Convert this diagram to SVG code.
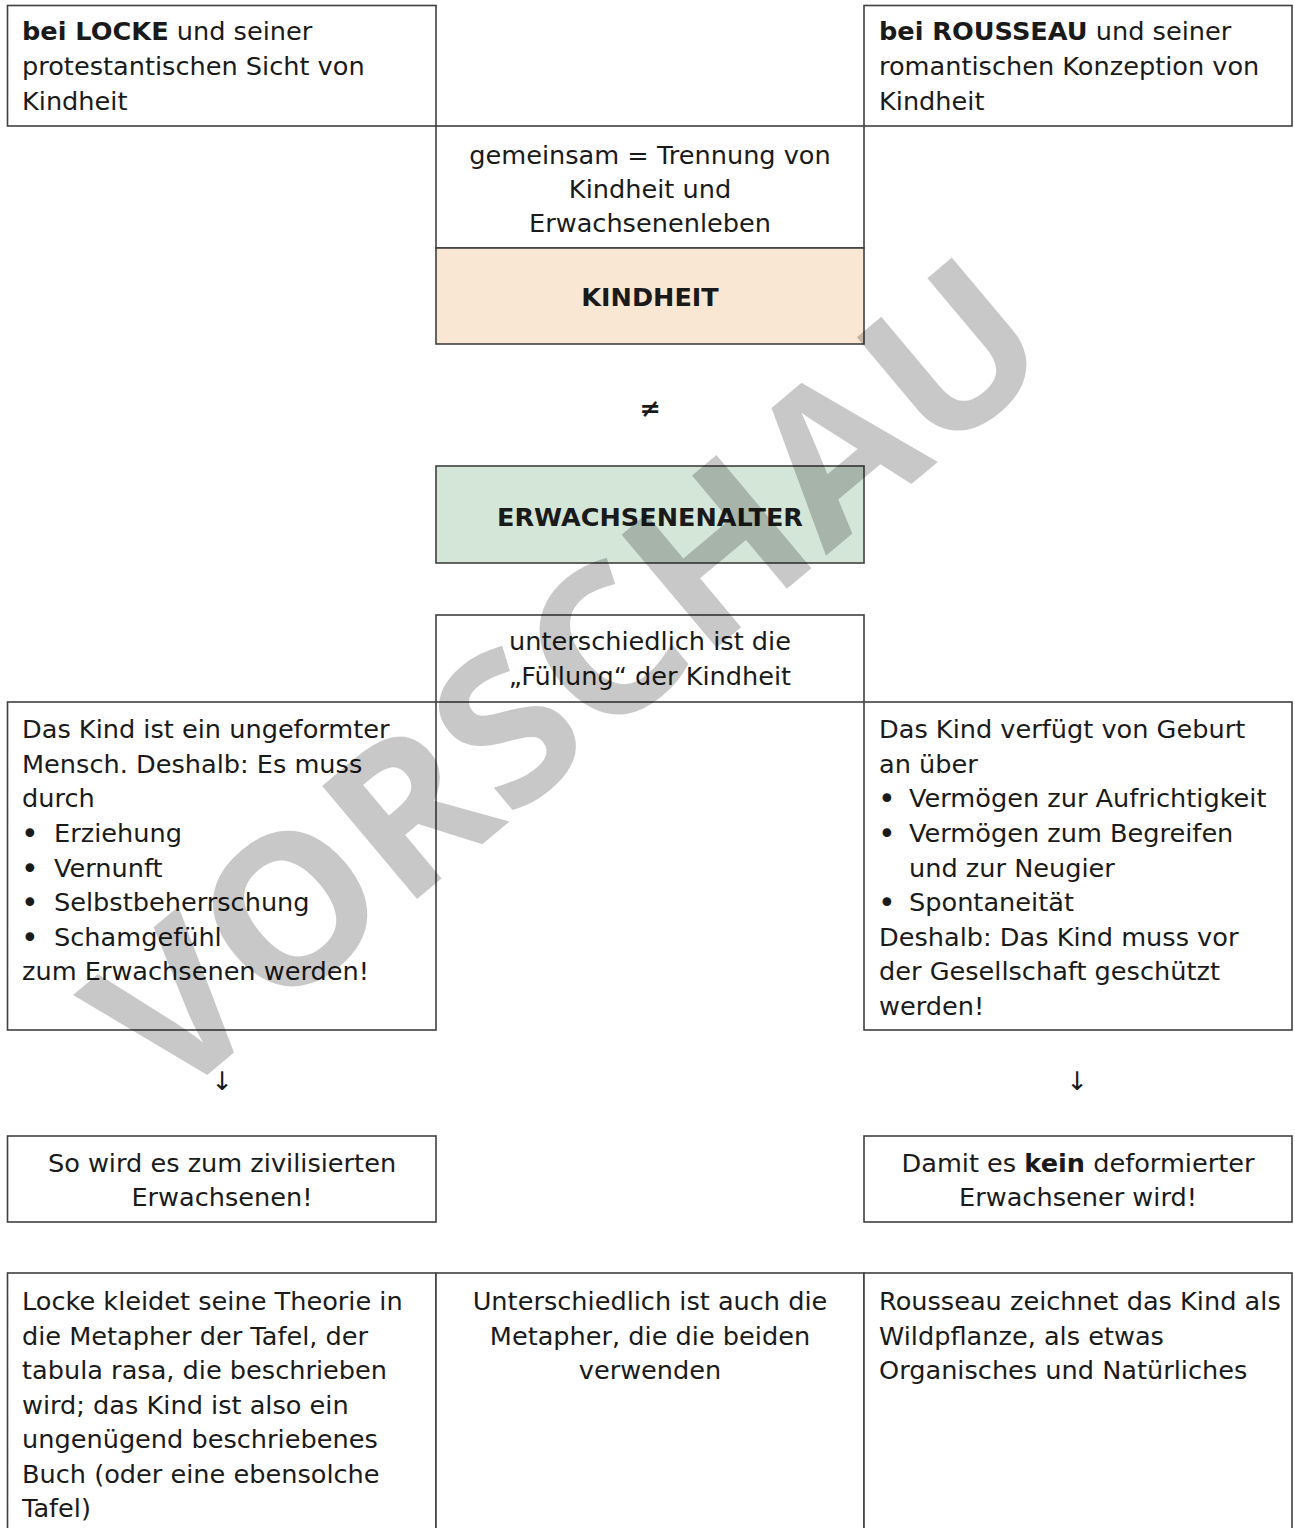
<svg xmlns="http://www.w3.org/2000/svg" width="1295" height="1528" viewBox="0 0 1295 1528">
<style>
.box{fill:#fff;stroke:#404040;stroke-width:1.6}
.t{font-family:"DejaVu Sans","Open Sans",sans-serif;font-size:25.6px;fill:#1a1a1a}
.c{text-anchor:middle}
.b{font-weight:bold}
.h{font-size:25.5px}
.bl{font-size:30px}
.wm{font-family:"Open Sans","Liberation Sans",sans-serif;font-weight:bold;font-size:207px;fill:#000;fill-opacity:0.215}
</style>
<rect width="1295" height="1528" fill="#fff"/>
<g id="locke-head">
<rect class="box" x="7.5" y="5.5" width="428.5" height="120.5"/>
<text class="t" x="22" y="40"><tspan class="b">bei LOCKE</tspan> und seiner</text>
<text class="t" x="22" y="75">protestantischen Sicht von</text>
<text class="t" x="22" y="110">Kindheit</text>
</g>
<g id="rousseau-head">
<rect class="box" x="864" y="5.5" width="428" height="120.5"/>
<text class="t" x="879" y="40"><tspan class="b">bei ROUSSEAU</tspan> und seiner</text>
<text class="t" x="879" y="75">romantischen Konzeption von</text>
<text class="t" x="879" y="110">Kindheit</text>
</g>
<g id="gemeinsam">
<rect class="box" x="436" y="126" width="428" height="122"/>
<text class="t c" x="650" y="164">gemeinsam = Trennung von</text>
<text class="t c" x="650" y="198">Kindheit und</text>
<text class="t c" x="650" y="232">Erwachsenenleben</text>
</g>
<g id="kindheit">
<rect class="box" x="436" y="248" width="428" height="96" style="fill:#f9e6d3"/>
<text class="t c b h" x="650" y="306">KINDHEIT</text>
</g>
<g id="erwachsenenalter">
<rect class="box" x="436" y="466" width="428" height="97" style="fill:#d4e6d8"/>
<text class="t c b h" x="650" y="526">ERWACHSENENALTER</text>
</g>
<g id="unterschiedlich">
<rect class="box" x="436" y="615" width="428" height="87"/>
<text class="t c" x="650" y="650">unterschiedlich ist die</text>
<text class="t c" x="650" y="685">„Füllung“ der Kindheit</text>
</g>
<g id="locke-kind">
<rect class="box" x="7.5" y="702" width="428.5" height="328"/>
<text class="t" x="22" y="738">Das Kind ist ein ungeformter</text>
<text class="t" x="22" y="773">Mensch. Deshalb: Es muss</text>
<text class="t" x="22" y="807">durch</text>
<text class="t bl" x="21" y="844">•</text><text class="t" x="54" y="842">Erziehung</text>
<text class="t bl" x="21" y="879">•</text><text class="t" x="54" y="877">Vernunft</text>
<text class="t bl" x="21" y="913">•</text><text class="t" x="54" y="911">Selbstbeherrschung</text>
<text class="t bl" x="21" y="948">•</text><text class="t" x="54" y="946">Schamgefühl</text>
<text class="t" x="22" y="980">zum Erwachsenen werden!</text>
</g>
<g id="rousseau-kind">
<rect class="box" x="864" y="702" width="428" height="328"/>
<text class="t" x="879" y="738">Das Kind verfügt von Geburt</text>
<text class="t" x="879" y="773">an über</text>
<text class="t bl" x="878" y="809">•</text><text class="t" x="909" y="807">Vermögen zur Aufrichtigkeit</text>
<text class="t bl" x="878" y="844">•</text><text class="t" x="909" y="842">Vermögen zum Begreifen</text>
<text class="t" x="909" y="877">und zur Neugier</text>
<text class="t bl" x="878" y="913">•</text><text class="t" x="909" y="911">Spontaneität</text>
<text class="t" x="879" y="946">Deshalb: Das Kind muss vor</text>
<text class="t" x="879" y="980">der Gesellschaft geschützt</text>
<text class="t" x="879" y="1015">werden!</text>
</g>
<g id="locke-ergebnis">
<rect class="box" x="7.5" y="1136" width="428.5" height="86"/>
<text class="t c" x="222" y="1172">So wird es zum zivilisierten</text>
<text class="t c" x="222" y="1206">Erwachsenen!</text>
</g>
<g id="rousseau-ergebnis">
<rect class="box" x="864" y="1136" width="428" height="86"/>
<text class="t c" x="1078" y="1172">Damit es <tspan class="b">kein</tspan> deformierter</text>
<text class="t c" x="1078" y="1206">Erwachsener wird!</text>
</g>
<g id="metapher-locke">
<rect class="box" x="7.5" y="1273" width="428.5" height="260"/>
<text class="t" x="22" y="1310">Locke kleidet seine Theorie in</text>
<text class="t" x="22" y="1345">die Metapher der Tafel, der</text>
<text class="t" x="22" y="1379">tabula rasa, die beschrieben</text>
<text class="t" x="22" y="1414">wird; das Kind ist also ein</text>
<text class="t" x="22" y="1448">ungenügend beschriebenes</text>
<text class="t" x="22" y="1483">Buch (oder eine ebensolche</text>
<text class="t" x="22" y="1517">Tafel)</text>
</g>
<g id="metapher-mitte">
<rect class="box" x="436" y="1273" width="428" height="260"/>
<text class="t c" x="650" y="1310">Unterschiedlich ist auch die</text>
<text class="t c" x="650" y="1345">Metapher, die die beiden</text>
<text class="t c" x="650" y="1379">verwenden</text>
</g>
<g id="metapher-rousseau">
<rect class="box" x="864" y="1273" width="428" height="260"/>
<text class="t" x="879" y="1310">Rousseau zeichnet das Kind als</text>
<text class="t" x="879" y="1345">Wildpflanze, als etwas</text>
<text class="t" x="879" y="1379">Organisches und Natürliches</text>
</g>
<g id="connectors">
<text class="t c b" x="650" y="417">≠</text>
<text class="t c" x="222" y="1090">↓</text>
<text class="t c" x="1077" y="1090">↓</text>
</g>
<text class="wm" x="168" y="1108" textLength="1165" lengthAdjust="spacingAndGlyphs" transform="rotate(-40 168 1108)">VORSCHAU</text>
</svg>
